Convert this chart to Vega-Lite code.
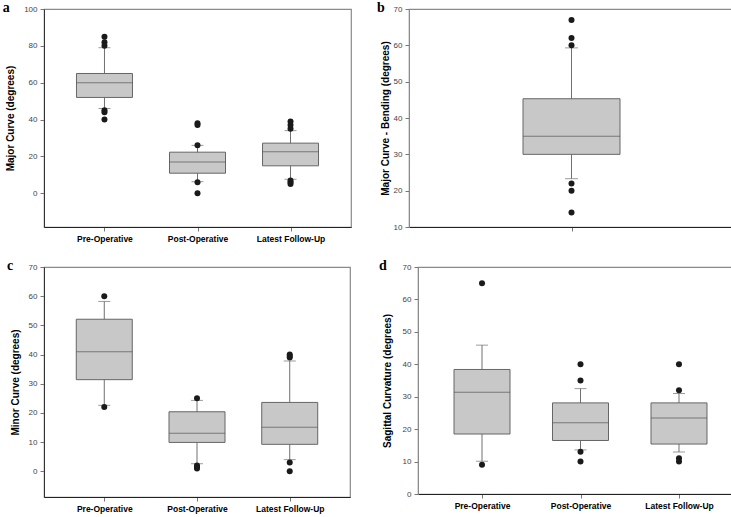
{
  "$schema": "https://vega.github.io/schema/vega-lite/v6.json",
  "background": "white",
  "padding": {"left": 2, "top": 0, "right": 2, "bottom": 0},
  "datasets": {
    "boxes": [
      {"panel": "a", "group": "Pre-Operative", "lo": 46, "q1": 52, "med": 60, "q3": 65, "hi": 79},
      {"panel": "a", "group": "Post-Operative", "lo": 6.3, "q1": 10.9, "med": 17, "q3": 22.3, "hi": 26},
      {"panel": "a", "group": "Latest Follow-Up", "lo": 7.6, "q1": 14.9, "med": 22.5, "q3": 27.2, "hi": 34},
      {"panel": "b", "group": "Bending", "lo": 23.3, "q1": 30, "med": 35, "q3": 45.3, "hi": 59.3},
      {"panel": "c", "group": "Pre-Operative", "lo": 22.6, "q1": 31.4, "med": 41, "q3": 52.1, "hi": 58.2},
      {"panel": "c", "group": "Post-Operative", "lo": 2.6, "q1": 9.9, "med": 13, "q3": 20.4, "hi": 24.3},
      {"panel": "c", "group": "Latest Follow-Up", "lo": 4, "q1": 9.25, "med": 15.1, "q3": 23.6, "hi": 37.8},
      {"panel": "d", "group": "Pre-Operative", "lo": 10.1, "q1": 18.5, "med": 31.4, "q3": 38.4, "hi": 45.9},
      {"panel": "d", "group": "Post-Operative", "lo": 13.6, "q1": 16.5, "med": 22, "q3": 28.1, "hi": 32.5},
      {"panel": "d", "group": "Latest Follow-Up", "lo": 12.95, "q1": 15.4, "med": 23.4, "q3": 28.1, "hi": 31}
    ],
    "outliers": [
      {"panel": "a", "group": "Pre-Operative", "value": 85},
      {"panel": "a", "group": "Pre-Operative", "value": 82},
      {"panel": "a", "group": "Pre-Operative", "value": 80},
      {"panel": "a", "group": "Pre-Operative", "value": 45},
      {"panel": "a", "group": "Pre-Operative", "value": 44},
      {"panel": "a", "group": "Pre-Operative", "value": 40},
      {"panel": "a", "group": "Post-Operative", "value": 38},
      {"panel": "a", "group": "Post-Operative", "value": 37},
      {"panel": "a", "group": "Post-Operative", "value": 26},
      {"panel": "a", "group": "Post-Operative", "value": 6},
      {"panel": "a", "group": "Post-Operative", "value": 0},
      {"panel": "a", "group": "Latest Follow-Up", "value": 39},
      {"panel": "a", "group": "Latest Follow-Up", "value": 37},
      {"panel": "a", "group": "Latest Follow-Up", "value": 35},
      {"panel": "a", "group": "Latest Follow-Up", "value": 7},
      {"panel": "a", "group": "Latest Follow-Up", "value": 6},
      {"panel": "a", "group": "Latest Follow-Up", "value": 5},
      {"panel": "b", "group": "Bending", "value": 67},
      {"panel": "b", "group": "Bending", "value": 62},
      {"panel": "b", "group": "Bending", "value": 60},
      {"panel": "b", "group": "Bending", "value": 22},
      {"panel": "b", "group": "Bending", "value": 20},
      {"panel": "b", "group": "Bending", "value": 14},
      {"panel": "c", "group": "Pre-Operative", "value": 60},
      {"panel": "c", "group": "Pre-Operative", "value": 22},
      {"panel": "c", "group": "Post-Operative", "value": 25},
      {"panel": "c", "group": "Post-Operative", "value": 2},
      {"panel": "c", "group": "Post-Operative", "value": 1.5},
      {"panel": "c", "group": "Post-Operative", "value": 1},
      {"panel": "c", "group": "Latest Follow-Up", "value": 40},
      {"panel": "c", "group": "Latest Follow-Up", "value": 39.5},
      {"panel": "c", "group": "Latest Follow-Up", "value": 39},
      {"panel": "c", "group": "Latest Follow-Up", "value": 3},
      {"panel": "c", "group": "Latest Follow-Up", "value": 0},
      {"panel": "d", "group": "Pre-Operative", "value": 65},
      {"panel": "d", "group": "Pre-Operative", "value": 9},
      {"panel": "d", "group": "Post-Operative", "value": 40},
      {"panel": "d", "group": "Post-Operative", "value": 35},
      {"panel": "d", "group": "Post-Operative", "value": 13},
      {"panel": "d", "group": "Post-Operative", "value": 10},
      {"panel": "d", "group": "Latest Follow-Up", "value": 40},
      {"panel": "d", "group": "Latest Follow-Up", "value": 32},
      {"panel": "d", "group": "Latest Follow-Up", "value": 11},
      {"panel": "d", "group": "Latest Follow-Up", "value": 10}
    ]
  },
  "config": {
    "view": {"stroke": "#8a8a8a", "strokeWidth": 1.2},
    "font": "Liberation Sans",
    "axis": {
      "grid": false,
      "labelFont": "Liberation Sans",
      "titleFont": "Liberation Sans",
      "tickColor": "#777",
      "tickSize": 4,
      "labelPadding": 3,
      "labelOverlap": false
    },
    "axisY": {"labelFontSize": 8, "labelColor": "#444", "titleFontSize": 10, "titleFontWeight": "bold", "titleColor": "#000", "domainColor": "#333", "labelFlush": false},
    "axisX": {"labelFontSize": 8.5, "labelFontWeight": "bold", "labelColor": "#000", "domainColor": "#222", "labelAngle": 0},
    "title": {"font": "Liberation Serif", "fontSize": 14, "fontWeight": "bold", "anchor": "start", "frame": "bounds", "offset": -10, "color": "#000"}
  },
  "vconcat": [
    {
      "hconcat": [
        {
          "width": 307, "height": 218,
          "title": {"text": "a", "dx": -3},
          "layer": [
            {"data": {"name": "boxes"}, "transform": [{"filter": "datum.panel == 'a'"}], "mark": {"type": "rule", "color": "#707070"},
             "encoding": {"x": {"field": "group", "type": "nominal", "sort": ["Pre-Operative", "Post-Operative", "Latest Follow-Up"], "scale": {"type": "point", "padding": 0.65}, "axis": {"title": null}},
                          "y": {"field": "lo", "type": "quantitative", "title": "Major Curve (degrees)", "scale": {"domain": [-18.3, 100], "nice": false, "zero": false}, "axis": {"values": [0, 20, 40, 60, 80, 100], "titlePadding": 8}},
                          "y2": {"field": "hi"}}},
            {"data": {"name": "boxes"}, "transform": [{"filter": "datum.panel == 'a'"}], "mark": {"type": "bar", "size": 56, "fill": "#c8c8c8", "stroke": "#666", "strokeWidth": 1},
             "encoding": {"x": {"field": "group", "type": "nominal", "sort": ["Pre-Operative", "Post-Operative", "Latest Follow-Up"]}, "y": {"field": "q1", "type": "quantitative", "title": "Major Curve (degrees)", "axis": {"values": [0, 20, 40, 60, 80, 100], "titlePadding": 8}}, "y2": {"field": "q3"}}},
            {"data": {"name": "boxes"}, "transform": [{"filter": "datum.panel == 'a'"}], "mark": {"type": "tick", "size": 56, "thickness": 1, "color": "#555"},
             "encoding": {"x": {"field": "group", "type": "nominal", "sort": ["Pre-Operative", "Post-Operative", "Latest Follow-Up"]}, "y": {"field": "med", "type": "quantitative", "title": "Major Curve (degrees)", "axis": {"values": [0, 20, 40, 60, 80, 100], "titlePadding": 8}}}},
            {"data": {"name": "boxes"}, "transform": [{"filter": "datum.panel == 'a'"}], "mark": {"type": "tick", "size": 12, "thickness": 1, "color": "#707070"},
             "encoding": {"x": {"field": "group", "type": "nominal", "sort": ["Pre-Operative", "Post-Operative", "Latest Follow-Up"]}, "y": {"field": "lo", "type": "quantitative", "title": "Major Curve (degrees)", "axis": {"values": [0, 20, 40, 60, 80, 100], "titlePadding": 8}}}},
            {"data": {"name": "boxes"}, "transform": [{"filter": "datum.panel == 'a'"}], "mark": {"type": "tick", "size": 12, "thickness": 1, "color": "#707070"},
             "encoding": {"x": {"field": "group", "type": "nominal", "sort": ["Pre-Operative", "Post-Operative", "Latest Follow-Up"]}, "y": {"field": "hi", "type": "quantitative", "title": "Major Curve (degrees)", "axis": {"values": [0, 20, 40, 60, 80, 100], "titlePadding": 8}}}},
            {"data": {"name": "outliers"}, "transform": [{"filter": "datum.panel == 'a'"}], "mark": {"type": "circle", "size": 36, "color": "#1a1a1a", "opacity": 1},
             "encoding": {"x": {"field": "group", "type": "nominal", "sort": ["Pre-Operative", "Post-Operative", "Latest Follow-Up"]}, "y": {"field": "value", "type": "quantitative", "title": "Major Curve (degrees)", "axis": {"values": [0, 20, 40, 60, 80, 100], "titlePadding": 8}}}}
          ]
        },
        {
          "width": 325, "height": 218,
          "title": {"text": "b", "dx": -3},
          "layer": [
            {"data": {"name": "boxes"}, "transform": [{"filter": "datum.panel == 'b'"}], "mark": {"type": "rule", "color": "#707070"},
             "encoding": {"x": {"field": "group", "type": "nominal", "scale": {"type": "point", "padding": 0.65}, "axis": {"title": null, "labels": false}},
                          "y": {"field": "lo", "type": "quantitative", "title": "Major Curve - Bending (degrees)", "scale": {"domain": [10, 70], "nice": false, "zero": false}, "axis": {"values": [10, 20, 30, 40, 50, 60, 70], "titlePadding": 3, "domainColor": "#8a8a8a"}},
                          "y2": {"field": "hi"}}},
            {"data": {"name": "boxes"}, "transform": [{"filter": "datum.panel == 'b'"}], "mark": {"type": "bar", "size": 97, "fill": "#c8c8c8", "stroke": "#666", "strokeWidth": 1},
             "encoding": {"x": {"field": "group", "type": "nominal"}, "y": {"field": "q1", "type": "quantitative", "title": "Major Curve - Bending (degrees)", "axis": {"values": [10, 20, 30, 40, 50, 60, 70], "titlePadding": 3, "domainColor": "#8a8a8a"}}, "y2": {"field": "q3"}}},
            {"data": {"name": "boxes"}, "transform": [{"filter": "datum.panel == 'b'"}], "mark": {"type": "tick", "size": 97, "thickness": 1, "color": "#555"},
             "encoding": {"x": {"field": "group", "type": "nominal"}, "y": {"field": "med", "type": "quantitative", "title": "Major Curve - Bending (degrees)", "axis": {"values": [10, 20, 30, 40, 50, 60, 70], "titlePadding": 3, "domainColor": "#8a8a8a"}}}},
            {"data": {"name": "boxes"}, "transform": [{"filter": "datum.panel == 'b'"}], "mark": {"type": "tick", "size": 13, "thickness": 1, "color": "#707070"},
             "encoding": {"x": {"field": "group", "type": "nominal"}, "y": {"field": "lo", "type": "quantitative", "title": "Major Curve - Bending (degrees)", "axis": {"values": [10, 20, 30, 40, 50, 60, 70], "titlePadding": 3, "domainColor": "#8a8a8a"}}}},
            {"data": {"name": "boxes"}, "transform": [{"filter": "datum.panel == 'b'"}], "mark": {"type": "tick", "size": 13, "thickness": 1, "color": "#707070"},
             "encoding": {"x": {"field": "group", "type": "nominal"}, "y": {"field": "hi", "type": "quantitative", "title": "Major Curve - Bending (degrees)", "axis": {"values": [10, 20, 30, 40, 50, 60, 70], "titlePadding": 3, "domainColor": "#8a8a8a"}}}},
            {"data": {"name": "outliers"}, "transform": [{"filter": "datum.panel == 'b'"}], "mark": {"type": "circle", "size": 36, "color": "#1a1a1a", "opacity": 1},
             "encoding": {"x": {"field": "group", "type": "nominal"}, "y": {"field": "value", "type": "quantitative", "title": "Major Curve - Bending (degrees)", "axis": {"values": [10, 20, 30, 40, 50, 60, 70], "titlePadding": 3, "domainColor": "#8a8a8a"}}}}
          ]
        }
      ],
      "spacing": 24
    },
    {
      "hconcat": [
        {
          "width": 306, "height": 230,
          "title": {"text": "c", "dx": -3},
          "layer": [
            {"data": {"name": "boxes"}, "transform": [{"filter": "datum.panel == 'c'"}], "mark": {"type": "rule", "color": "#707070"},
             "encoding": {"x": {"field": "group", "type": "nominal", "sort": ["Pre-Operative", "Post-Operative", "Latest Follow-Up"], "scale": {"type": "point", "padding": 0.65}, "axis": {"title": null}},
                          "y": {"field": "lo", "type": "quantitative", "title": "Minor Curve (degrees)", "scale": {"domain": [-8.8, 70], "nice": false, "zero": false}, "axis": {"values": [0, 10, 20, 30, 40, 50, 60, 70], "titlePadding": 8}},
                          "y2": {"field": "hi"}}},
            {"data": {"name": "boxes"}, "transform": [{"filter": "datum.panel == 'c'"}], "mark": {"type": "bar", "size": 56, "fill": "#c8c8c8", "stroke": "#666", "strokeWidth": 1},
             "encoding": {"x": {"field": "group", "type": "nominal", "sort": ["Pre-Operative", "Post-Operative", "Latest Follow-Up"]}, "y": {"field": "q1", "type": "quantitative", "title": "Minor Curve (degrees)", "axis": {"values": [0, 10, 20, 30, 40, 50, 60, 70], "titlePadding": 8}}, "y2": {"field": "q3"}}},
            {"data": {"name": "boxes"}, "transform": [{"filter": "datum.panel == 'c'"}], "mark": {"type": "tick", "size": 56, "thickness": 1, "color": "#555"},
             "encoding": {"x": {"field": "group", "type": "nominal", "sort": ["Pre-Operative", "Post-Operative", "Latest Follow-Up"]}, "y": {"field": "med", "type": "quantitative", "title": "Minor Curve (degrees)", "axis": {"values": [0, 10, 20, 30, 40, 50, 60, 70], "titlePadding": 8}}}},
            {"data": {"name": "boxes"}, "transform": [{"filter": "datum.panel == 'c'"}], "mark": {"type": "tick", "size": 12, "thickness": 1, "color": "#707070"},
             "encoding": {"x": {"field": "group", "type": "nominal", "sort": ["Pre-Operative", "Post-Operative", "Latest Follow-Up"]}, "y": {"field": "lo", "type": "quantitative", "title": "Minor Curve (degrees)", "axis": {"values": [0, 10, 20, 30, 40, 50, 60, 70], "titlePadding": 8}}}},
            {"data": {"name": "boxes"}, "transform": [{"filter": "datum.panel == 'c'"}], "mark": {"type": "tick", "size": 12, "thickness": 1, "color": "#707070"},
             "encoding": {"x": {"field": "group", "type": "nominal", "sort": ["Pre-Operative", "Post-Operative", "Latest Follow-Up"]}, "y": {"field": "hi", "type": "quantitative", "title": "Minor Curve (degrees)", "axis": {"values": [0, 10, 20, 30, 40, 50, 60, 70], "titlePadding": 8}}}},
            {"data": {"name": "outliers"}, "transform": [{"filter": "datum.panel == 'c'"}], "mark": {"type": "circle", "size": 36, "color": "#1a1a1a", "opacity": 1},
             "encoding": {"x": {"field": "group", "type": "nominal", "sort": ["Pre-Operative", "Post-Operative", "Latest Follow-Up"]}, "y": {"field": "value", "type": "quantitative", "title": "Minor Curve (degrees)", "axis": {"values": [0, 10, 20, 30, 40, 50, 60, 70], "titlePadding": 8}}}}
          ]
        },
        {
          "width": 325, "height": 227,
          "title": {"text": "d", "dx": -3},
          "layer": [
            {"data": {"name": "boxes"}, "transform": [{"filter": "datum.panel == 'd'"}], "mark": {"type": "rule", "color": "#707070"},
             "encoding": {"x": {"field": "group", "type": "nominal", "sort": ["Pre-Operative", "Post-Operative", "Latest Follow-Up"], "scale": {"type": "point", "padding": 0.65}, "axis": {"title": null}},
                          "y": {"field": "lo", "type": "quantitative", "title": "Sagittal Curvature (degrees)", "scale": {"domain": [0, 70], "nice": false, "zero": false}, "axis": {"values": [0, 10, 20, 30, 40, 50, 60, 70], "titlePadding": 10, "domainColor": "#8a8a8a"}},
                          "y2": {"field": "hi"}}},
            {"data": {"name": "boxes"}, "transform": [{"filter": "datum.panel == 'd'"}], "mark": {"type": "bar", "size": 56, "fill": "#c8c8c8", "stroke": "#666", "strokeWidth": 1},
             "encoding": {"x": {"field": "group", "type": "nominal", "sort": ["Pre-Operative", "Post-Operative", "Latest Follow-Up"]}, "y": {"field": "q1", "type": "quantitative", "title": "Sagittal Curvature (degrees)", "axis": {"values": [0, 10, 20, 30, 40, 50, 60, 70], "titlePadding": 10, "domainColor": "#8a8a8a"}}, "y2": {"field": "q3"}}},
            {"data": {"name": "boxes"}, "transform": [{"filter": "datum.panel == 'd'"}], "mark": {"type": "tick", "size": 56, "thickness": 1, "color": "#555"},
             "encoding": {"x": {"field": "group", "type": "nominal", "sort": ["Pre-Operative", "Post-Operative", "Latest Follow-Up"]}, "y": {"field": "med", "type": "quantitative", "title": "Sagittal Curvature (degrees)", "axis": {"values": [0, 10, 20, 30, 40, 50, 60, 70], "titlePadding": 10, "domainColor": "#8a8a8a"}}}},
            {"data": {"name": "boxes"}, "transform": [{"filter": "datum.panel == 'd'"}], "mark": {"type": "tick", "size": 12, "thickness": 1, "color": "#707070"},
             "encoding": {"x": {"field": "group", "type": "nominal", "sort": ["Pre-Operative", "Post-Operative", "Latest Follow-Up"]}, "y": {"field": "lo", "type": "quantitative", "title": "Sagittal Curvature (degrees)", "axis": {"values": [0, 10, 20, 30, 40, 50, 60, 70], "titlePadding": 10, "domainColor": "#8a8a8a"}}}},
            {"data": {"name": "boxes"}, "transform": [{"filter": "datum.panel == 'd'"}], "mark": {"type": "tick", "size": 12, "thickness": 1, "color": "#707070"},
             "encoding": {"x": {"field": "group", "type": "nominal", "sort": ["Pre-Operative", "Post-Operative", "Latest Follow-Up"]}, "y": {"field": "hi", "type": "quantitative", "title": "Sagittal Curvature (degrees)", "axis": {"values": [0, 10, 20, 30, 40, 50, 60, 70], "titlePadding": 10, "domainColor": "#8a8a8a"}}}},
            {"data": {"name": "outliers"}, "transform": [{"filter": "datum.panel == 'd'"}], "mark": {"type": "circle", "size": 36, "color": "#1a1a1a", "opacity": 1},
             "encoding": {"x": {"field": "group", "type": "nominal", "sort": ["Pre-Operative", "Post-Operative", "Latest Follow-Up"]}, "y": {"field": "value", "type": "quantitative", "title": "Sagittal Curvature (degrees)", "axis": {"values": [0, 10, 20, 30, 40, 50, 60, 70], "titlePadding": 10, "domainColor": "#8a8a8a"}}}}
          ]
        }
      ],
      "spacing": 27
    }
  ],
  "spacing": 14
}
